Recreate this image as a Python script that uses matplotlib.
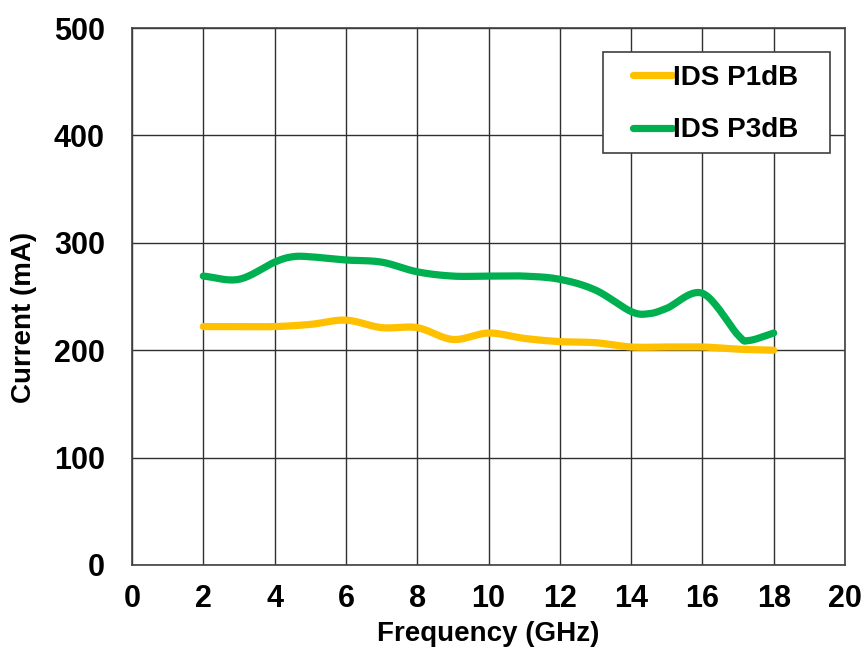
import numpy as np
import matplotlib
matplotlib.use("Agg")
import matplotlib.pyplot as plt
from matplotlib.patches import Rectangle

freq = [2, 3, 4, 4.5, 5, 6, 7, 8, 9, 10, 11, 12, 13, 14, 14.5, 15, 16, 17, 17.3, 18]
ids_p3db = [269, 266, 282, 287, 287, 284, 282, 273, 269, 269, 269, 266, 256, 236, 234, 239, 253, 214, 209, 216]
freq1 = [2, 3, 4, 5, 6, 7, 8, 9, 10, 11, 12, 13, 14, 15, 16, 17, 18]
ids_p1db = [222, 222, 222, 224, 228, 221, 221, 210, 216, 211, 208, 207, 203, 203, 203, 201, 200]
xticks = list(range(0, 21, 2))
yticks = list(range(0, 501, 100))


def smooth(x, y, n=20):
    x = np.asarray(x, float); y = np.asarray(y, float)
    px = np.concatenate([[2 * x[0] - x[1]], x, [2 * x[-1] - x[-2]]])
    py = np.concatenate([[2 * y[0] - y[1]], y, [2 * y[-1] - y[-2]]])
    xs, ys = [], []
    t = np.linspace(0, 1, n, endpoint=False)
    for i in range(1, len(px) - 2):
        p0, p1, p2, p3 = px[i - 1:i + 3]
        q0, q1, q2, q3 = py[i - 1:i + 3]
        for arr, a0, a1, a2, a3 in ((xs, p0, p1, p2, p3), (ys, q0, q1, q2, q3)):
            arr.extend(0.5 * ((2 * a1) + (-a0 + a2) * t + (2 * a0 - 5 * a1 + 4 * a2 - a3) * t ** 2
                              + (-a0 + 3 * a1 - 3 * a2 + a3) * t ** 3))
    xs.append(x[-1]); ys.append(y[-1])
    return np.array(xs), np.array(ys)


plt.rcParams['font.family'] = ['Liberation Sans', 'DejaVu Sans']
plt.rcParams['font.weight'] = 'bold'

W, H = 864, 654
fig = plt.figure(figsize=(8.64, 6.54), dpi=100)
ax = fig.add_axes([132 / W, 1 - 565 / H, (845 - 132) / W, (565 - 28) / H])

sx, sy = smooth(freq1, ids_p1db)
ax.plot(sx, sy, color='#FFC000', lw=5.2, solid_capstyle='round', label='IDS P1dB', zorder=3)
sx, sy = smooth(freq, ids_p3db)
ax.plot(sx, sy, color='#00B050', lw=5.2, solid_capstyle='round', label='IDS P3dB', zorder=3)

ax.set_xlim(0, 20)
ax.set_ylim(0, 500)
ax.set_xticks(xticks)
ax.set_yticks(yticks)
ax.grid(True, color='#303030', lw=1.0)
ax.set_axisbelow(True)
for s in ax.spines.values():
    s.set_color('#404040')
    s.set_linewidth(1.2)
ax.tick_params(length=0, labelsize=22)
ax.tick_params(axis='x', pad=14)
ax.tick_params(axis='y', pad=19.5)
for lab in ax.get_xticklabels() + ax.get_yticklabels():
    lab.set_fontweight('bold')

ax.set_xlabel('Frequency (GHz)', fontsize=20, fontweight='bold')
ax.set_ylabel('Current (mA)', fontsize=20, fontweight='bold')
ax.xaxis.set_label_coords(0.5, -(634 - 565) / 537, transform=ax.transAxes)
ax.xaxis.label.set_va('center')
ax.yaxis.set_label_coords(-(132 - 24) / 713, (565 - 317.5) / 537, transform=ax.transAxes)
ax.yaxis.label.set_va('center')

# legend frame
frame = Rectangle((603 / W, 1 - 153 / H), (830 - 603) / W, (153 - 52) / H,
                  transform=fig.transFigure, facecolor='white', edgecolor='#404040',
                  lw=1.2, zorder=5, clip_on=False)
ax.add_patch(frame)
leg = ax.legend(loc='upper left', bbox_to_anchor=(633 / W, 1 - 65 / H), bbox_transform=fig.transFigure,
                fontsize=20, frameon=False,
                handlelength=1.4, handletextpad=0.05, borderpad=0, labelspacing=0.95, borderaxespad=0)
leg.set_zorder(6)
for t in leg.get_texts():
    t.set_fontweight('bold')

fig.savefig('out.png', dpi=100)
